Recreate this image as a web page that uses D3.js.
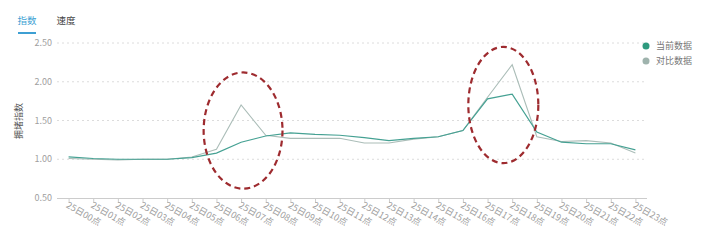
<!DOCTYPE html>
<html><head><meta charset="utf-8">
<script src="https://cdn.jsdelivr.net/npm/d3@7"></script>
<style>
html,body{margin:0;padding:0;background:#fff;}
svg{display:block;font-family:"Noto Sans CJK SC","Noto Sans",sans-serif;}
</style></head>
<body><svg id="c" width="708" height="240"></svg>
<script>
const categories = ["25日00点","25日01点","25日02点","25日03点","25日04点","25日05点","25日06点","25日07点","25日08点","25日09点","25日10点","25日11点","25日12点","25日13点","25日14点","25日15点","25日16点","25日17点","25日18点","25日19点","25日20点","25日21点","25日22点","25日23点"];
const currentData = [1.03,1.01,1.00,1.00,1.00,1.02,1.08,1.22,1.30,1.34,1.32,1.31,1.28,1.24,1.27,1.29,1.37,1.78,1.84,1.35,1.22,1.20,1.20,1.12];
const compareData = [1.01,1.00,0.99,1.00,1.00,1.03,1.13,1.70,1.31,1.27,1.27,1.27,1.21,1.21,1.26,1.29,1.37,1.80,2.22,1.29,1.23,1.24,1.21,1.08];
const yTicks = [0.5,1.0,1.5,2.0,2.5];
const seriesNames = ["当前数据","对比数据"];
const tabs = ["指数","速度"];
const yTitle = "拥堵指数";
// annotation ellipses: centre category (+ offset in steps), value range, half-width in steps
const highlights = [
  {cat:"25日07点", dx:0.08, lo:0.62, hi:2.12, half:1.6},
  {cat:"25日17点", dx:0.64, lo:0.95, hi:2.45, half:1.42}
];

const svg = d3.select("#c");
const x = d3.scalePoint().domain(categories).range([57,647]).padding(0.47);
const y = d3.scaleLinear().domain([0.5,2.5]).range([198,43]);
const colCur = "#45a193", colCmp = "#abbdb8";

// tabs
const tabX = [27,66];
tabs.forEach((t,i)=>{
  svg.append("text").attr("x",tabX[i]).attr("y",24).attr("text-anchor","middle")
    .attr("font-size",9.5).attr("fill", i===0?"#3d9fd3":"#444").text(t);
});
svg.append("line").attr("x1",18).attr("x2",36).attr("y1",33).attr("y2",33)
  .attr("stroke","#3d9fd3").attr("stroke-width",2);

// grid
svg.append("g").selectAll("line").data(yTicks.filter(d=>d>0.5)).join("line")
  .attr("x1",57).attr("x2",647).attr("y1",d=>y(d)).attr("y2",d=>y(d))
  .attr("stroke","#dcdcdc").attr("stroke-dasharray","2,3").attr("stroke-width",1);

// y labels
svg.append("g").selectAll("text").data(yTicks).join("text")
  .attr("x",52).attr("y",d=>y(d)+3).attr("text-anchor","end")
  .attr("font-size",9).attr("fill","#a0a0a0").text(d=>d.toFixed(2));

svg.append("text").attr("transform","translate(22,121) rotate(-90)")
  .attr("text-anchor","middle").attr("font-size",9).attr("fill","#555").text(yTitle);

// x axis
const xa = svg.append("g").attr("transform","translate(0,198)")
  .call(d3.axisBottom(x).tickSize(5).tickSizeOuter(0).tickFormat(""));
xa.select(".domain").remove();
xa.selectAll("line").attr("stroke","#ccc");
svg.append("line").attr("x1",57).attr("x2",647).attr("y1",198.5).attr("y2",198.5).attr("stroke","#ccc");
svg.append("g").selectAll("text").data(categories).join("text")
  .attr("transform",d=>`translate(${x(d)-3},${207}) rotate(30)`)
  .attr("font-size",9).attr("fill","#a0a0a0").text(d=>d);

// lines
const line = d3.line().x((d,i)=>x(categories[i])).y(d=>y(d));
svg.append("path").datum(compareData).attr("d",line).attr("fill","none")
  .attr("stroke",colCmp).attr("stroke-width",1.1);
svg.append("path").datum(currentData).attr("d",line).attr("fill","none")
  .attr("stroke",colCur).attr("stroke-width",1.2);

// annotations
highlights.forEach(h=>{
  svg.append("ellipse").attr("cx",x(h.cat)+h.dx*x.step()).attr("cy",(y(h.lo)+y(h.hi))/2)
    .attr("rx",x.step()*h.half).attr("ry",(y(h.lo)-y(h.hi))/2)
    .attr("fill","none").attr("stroke","#9e2b2f").attr("stroke-width",2.2)
    .attr("stroke-dasharray","6,4");
});

// legend
const cols=[ "#2e9a7e", "#9fb3ad"];
seriesNames.forEach((s,i)=>{
  svg.append("circle").attr("cx",646).attr("cy",46+i*15).attr("r",3.5).attr("fill",cols[i]);
  svg.append("text").attr("x",656).attr("y",49+i*15).attr("font-size",9).attr("fill","#777").text(s);
});
</script></body></html>
